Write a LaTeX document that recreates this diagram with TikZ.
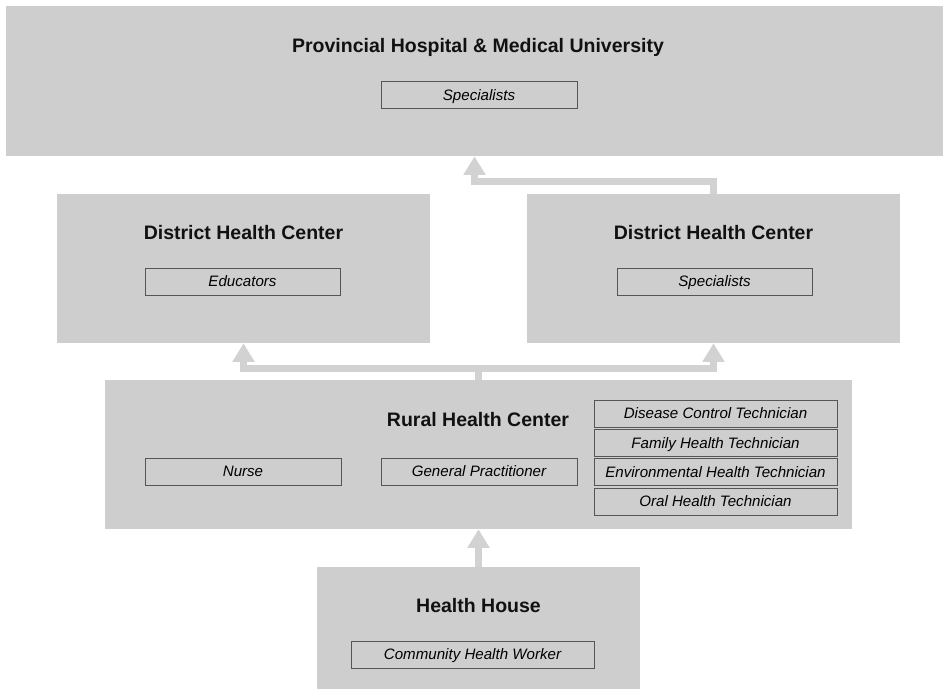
\documentclass[tikz,border=0pt]{standalone}
\usepackage{fontspec}
\setmainfont{Liberation Sans}
\usepackage{tikz}
\usetikzlibrary{positioning,arrows.meta,calc}
\usepackage{xcolor}
\definecolor{panel}{HTML}{CECECE}
\definecolor{flowgray}{HTML}{D2D2D2}
\definecolor{ink}{HTML}{111111}
\definecolor{rim}{HTML}{555555}

\begin{document}
\begin{tikzpicture}[x=0.02cm, y=-0.02cm,
    level/.style={fill=panel, inner sep=0pt},
    head/.style={ink, font=\fontsize{11.1}{13}\selectfont\bfseries},
    staff/.style={draw=rim, line width=0.5pt, fill=panel, inner sep=0pt,
      minimum height=27*0.02cm, text height=6.2pt, text depth=0pt,
      font=\fontsize{8.6}{10}\selectfont\itshape},
    flow/.style={flowgray, line width=4pt,
      -{Triangle[width=12pt,length=10.5pt]}}]
        \useasboundingbox (0,0) rectangle (943,689);
        % the five levels
        \node[level, minimum width=937*0.02cm, minimum height=150*0.02cm] (prov) at (474.5,81) {};
        \node[level, minimum width=373*0.02cm, minimum height=149*0.02cm] (dhcL) at (243.5,268.5) {};
        \node[level, minimum width=373*0.02cm, minimum height=149*0.02cm] (dhcR) at (713.5,268.5) {};
        \node[level, minimum width=747*0.02cm, minimum height=149*0.02cm] (rural) at (478.5,454.5) {};
        \node[level, minimum width=323*0.02cm, minimum height=122*0.02cm] (house) at (478.5,628) {};
        % headings
        \node[head] (provHead) at (478,47) {Provincial Hospital \& Medical University};
        \node[head] (dhcLHead) at (243.5,233) {District Health Center};
        \node[head] (dhcRHead) at (713.5,233) {District Health Center};
        \node[head] (ruralHead) at (478,420) {Rural Health Center};
        \node[head] (houseHead) at (478.5,606) {Health House};
        % staff at each level
        \node[staff, minimum width=196*0.02cm] (provSpec) at (479,95) {Specialists};
        \node[staff, minimum width=195*0.02cm] (dhcLEdu) at (242.5,281.5) {Educators};
        \node[staff, minimum width=195*0.02cm] (dhcRSpec) at (714.5,281.5) {Specialists};
        \node[staff, minimum width=196*0.02cm] (nurse) at (243,471.5) {Nurse};
        \node[staff, minimum width=196*0.02cm] (gp) at (479,471.5) {General Practitioner};
        \node[staff, minimum width=243*0.02cm] (tDisease) at (715.5,413.5) {Disease Control Technician};
        \node[staff, minimum width=243*0.02cm] (tFamily) at (715.5,443) {Family Health Technician};
        \node[staff, minimum width=243*0.02cm] (tEnv) at (715.5,472) {Environmental Health Technician};
        \node[staff, minimum width=243*0.02cm] (tOral) at (715.5,501.5) {Oral Health Technician};
        \node[staff, minimum width=243*0.02cm] (chw) at (472.5,654.5) {Community Health Worker};
        % referral arrows
        \draw[flow] (house.north) -- (rural.south);
        \draw[flowgray, line width=4pt] (rural.north) -- ++(0,-11.5) coordinate (fork);
        \draw[flow] (fork) -| (dhcL.south);
        \draw[flow] (fork) -| (dhcR.south);
        \draw[flow] (dhcR.north) -- ++(0,-12.5) -| (prov.south);
      \end{tikzpicture}
\end{document}
